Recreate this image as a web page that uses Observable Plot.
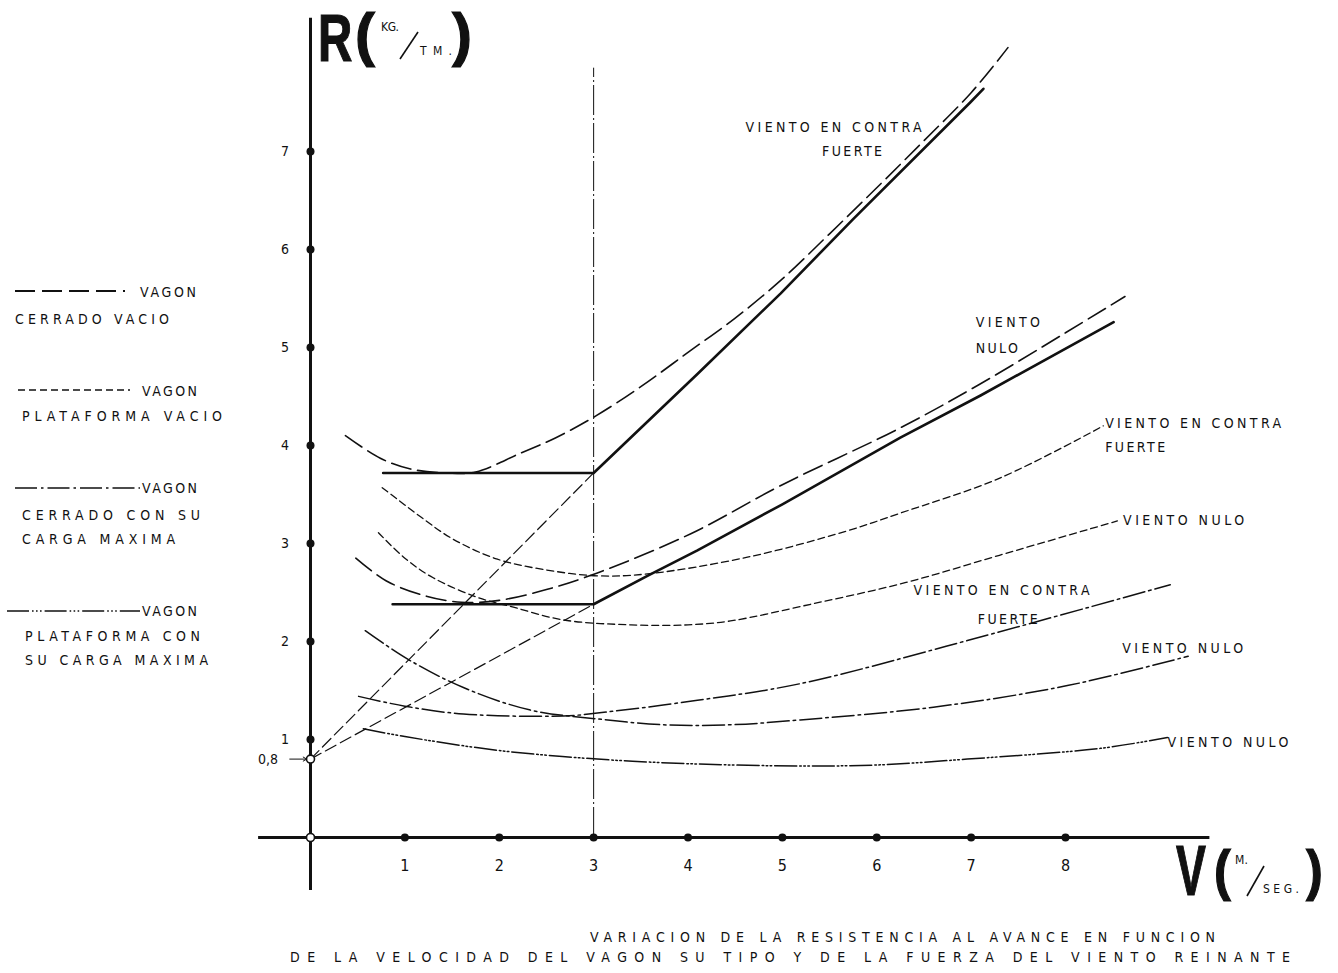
<!DOCTYPE html>
<html>
<head>
<meta charset="utf-8">
<script src="https://cdn.jsdelivr.net/npm/d3@7"></script>
<script src="https://cdn.jsdelivr.net/npm/@observablehq/plot@0.6"></script>
<style>
  html, body { margin: 0; padding: 0; background: #fff; }
  #wrap { position: relative; width: 1338px; height: 973px; overflow: hidden; background: #fff; }
  #wrap > svg { position: absolute; left: 0; top: 0; }
</style>
</head>
<body>
<div id="wrap"></div>
<script>
const INK = "#111";
const NARROW = '"Liberation Sans Narrow", "DejaVu Sans Condensed", "Roboto Condensed", "Liberation Sans", sans-serif';
const BOLD = '"Liberation Sans", Arial, "DejaVu Sans", sans-serif';

// ---------------- data ----------------
const xTicks = [1, 2, 3, 4, 5, 6, 7, 8];          // V (m/seg)
const yTicks = [1, 2, 3, 4, 5, 6, 7];             // R (kg/tm)
const rAtRest = 0.8;                              // R at V = 0
const vLimit = 3;                                 // vertical reference V = 3

// [V, R]
// Vagón cerrado vacío
const cerradoVacioContra = [[0.37,4.10],[0.74,3.87],[1.06,3.76],[1.45,3.72],[1.75,3.73],[2.22,3.92],[2.6,4.08],[3.02,4.30],[3.5,4.60],[4.0,4.95],[4.5,5.30],[5.0,5.70],[5.5,6.16],[6.0,6.63],[6.5,7.11],[7.0,7.60],[7.39,8.06]];
const cerradoVacioContraEnvelope = [[0.77,3.72],[3.0,3.72],[4.10,4.73],[4.98,5.55],[5.75,6.31],[6.99,7.50],[7.13,7.64]];
const cerradoVacioNulo = [[0.48,2.85],[0.8,2.62],[1.2,2.47],[1.6,2.40],[2.0,2.42],[2.5,2.53],[3.04,2.70],[4.03,3.10],[5.0,3.60],[6.25,4.18],[7.10,4.63],[8.0,5.15],[8.63,5.52]];
const cerradoVacioNuloEnvelope = [[0.87,2.38],[3.0,2.38],[3.57,2.67],[4.10,2.93],[5.0,3.40],[6.25,4.08],[7.10,4.51],[8.51,5.26]];
// Vagón plataforma vacío
const plataformaVacioContra = [[0.76,3.57],[1.17,3.27],[1.5,3.05],[1.98,2.84],[2.5,2.73],[3.04,2.67],[3.57,2.69],[4.63,2.86],[5.69,3.13],[6.25,3.31],[7.31,3.67],[8.40,4.20]];
const plataformaVacioNulo = [[0.72,3.11],[1.0,2.85],[1.3,2.65],[1.77,2.45],[2.15,2.35],[2.68,2.22],[3.39,2.17],[4.0,2.17],[4.45,2.21],[5.3,2.38],[6.3,2.60],[7.3,2.88],[8.55,3.23]];
// Vagón cerrado con su carga máxima
const cerradoCargaContra = [[0.51,1.44],[1.0,1.34],[1.62,1.26],[2.68,1.24],[3.04,1.27],[4.10,1.40],[5.19,1.57],[6.96,2.01],[9.11,2.58]];
const cerradoCargaNulo = [[0.58,2.11],[1.03,1.82],[1.62,1.53],[2.33,1.30],[3.04,1.21],[3.74,1.15],[4.45,1.15],[5.19,1.20],[6.60,1.33],[8.02,1.55],[9.30,1.85]];
// Vagón plataforma con su carga máxima
const plataformaCargaNulo = [[0.56,1.11],[1.0,1.03],[1.98,0.89],[3.04,0.80],[4.10,0.75],[5.19,0.73],[6.0,0.74],[6.96,0.80],[8.37,0.91],[9.08,1.02]];
// straight construction lines from R = 0.8 to the envelope corners
const tangentHigh = [[0, 0.8], [3, 3.72]];
const tangentLow = [[0, 0.8], [3, 2.38]];

// curve labels
const curveLabels = [
  {text: "VIENTO EN CONTRA", x: 4.61, y: 7.24},
  {text: "FUERTE", x: 5.42, y: 7.00},
  {text: "VIENTO", x: 7.05, y: 5.26},
  {text: "NULO", x: 7.05, y: 4.99},
  {text: "VIENTO EN CONTRA", x: 8.42, y: 4.22},
  {text: "FUERTE", x: 8.42, y: 3.98},
  {text: "VIENTO NULO", x: 8.61, y: 3.23},
  {text: "VIENTO EN CONTRA", x: 6.39, y: 2.52},
  {text: "FUERTE", x: 7.07, y: 2.22},
  {text: "VIENTO NULO", x: 8.60, y: 1.93},
  {text: "VIENTO NULO", x: 9.08, y: 0.97}
];

const legendEntries = [
  {type: "cerradoVacio", head: "VAGON", lines: ["CERRADO VACIO"]},
  {type: "plataformaVacio", head: "VAGON", lines: ["PLATAFORMA VACIO"]},
  {type: "cerradoCarga", head: "VAGON", lines: ["CERRADO CON SU", "CARGA MAXIMA"]},
  {type: "plataformaCarga", head: "VAGON", lines: ["PLATAFORMA CON", "SU CARGA MAXIMA"]}
];
const captionLines = [
  "VARIACION DE LA RESISTENCIA AL AVANCE EN FUNCION",
  "DE LA VELOCIDAD DEL VAGON SU TIPO Y DE LA FUERZA DEL VIENTO REINANTE"
];

// ---------------- styles ----------------
const lineStyle = {
  cerradoVacio:    {dash: "20,7", w: 1.6},
  envelope:        {dash: null, w: 2.6},
  plataformaVacio: {dash: "7,4", w: 1.3},
  cerradoCarga:    {dash: "22,4,2.5,4", w: 1.5},
  plataformaCarga: {dash: "22,3,1.6,2.4,1.6,2.4,1.6,3", w: 1.5},
  tangent:         {dash: "12,5", w: 1.2}
};

const series = [
  {type: "cerradoVacio", pts: cerradoVacioContra},
  {type: "envelope", pts: cerradoVacioContraEnvelope, curve: "linear"},
  {type: "cerradoVacio", pts: cerradoVacioNulo},
  {type: "envelope", pts: cerradoVacioNuloEnvelope, curve: "linear"},
  {type: "plataformaVacio", pts: plataformaVacioContra},
  {type: "plataformaVacio", pts: plataformaVacioNulo},
  {type: "cerradoCarga", pts: cerradoCargaContra},
  {type: "cerradoCarga", pts: cerradoCargaNulo},
  {type: "plataformaCarga", pts: plataformaCargaNulo},
  {type: "tangent", pts: tangentHigh, curve: "linear"},
  {type: "tangent", pts: tangentLow, curve: "linear"}
];

const W = 1338, H = 973;
const xAxisExtent = [-0.55, 9.53];
const yAxisExtent = [-0.54, 8.36];

const chart = Plot.plot({
  width: W, height: H,
  marginTop: 0, marginRight: 0, marginBottom: 0, marginLeft: 0,
  x: {domain: [0, 8], range: [310, 1065], axis: null},
  y: {domain: [0, 7], range: [837, 151], axis: null},
  style: {background: "transparent", color: INK},
  marks: [
    // vertical reference at V = 3
    Plot.ruleX([vLimit], {y1: 0, y2: 7.85, stroke: INK, strokeWidth: 1, strokeDasharray: "30,3,2,3"}),
    ...series.map(s => Plot.line(s.pts, {
      x: d => d[0], y: d => d[1],
      curve: s.curve || "catmull-rom",
      stroke: INK,
      strokeWidth: lineStyle[s.type].w,
      strokeDasharray: lineStyle[s.type].dash || undefined
    })),
    // axes
    Plot.ruleY([0], {x1: xAxisExtent[0], x2: xAxisExtent[1], stroke: INK, strokeWidth: 3}),
    Plot.ruleX([0], {y1: yAxisExtent[0], y2: yAxisExtent[1], stroke: INK, strokeWidth: 3}),
    Plot.dot(xTicks, {x: d => d, y: 0, r: 4, fill: INK}),
    Plot.dot(yTicks, {x: 0, y: d => d, r: 4, fill: INK}),
    Plot.dot([[0, 0], [0, rAtRest]], {x: d => d[0], y: d => d[1], r: 4, fill: "white", stroke: INK, strokeWidth: 1.6}),
    Plot.text(xTicks, {x: d => d, y: -0.29, text: d => String(d), fontSize: 16, fontFamily: NARROW, fill: INK}),
    Plot.text(yTicks, {x: -0.27, y: d => d, text: d => String(d), fontSize: 14, fontFamily: NARROW, fill: INK}),
    Plot.text([rAtRest], {x: -0.45, y: d => d, text: () => "0,8", fontSize: 14, fontFamily: NARROW, fill: INK}),
    Plot.arrow([rAtRest], {x1: -0.22, x2: -0.04, y1: d => d, y2: d => d, stroke: INK, strokeWidth: 1, headLength: 6}),
    Plot.text(curveLabels, {x: "x", y: "y", text: "text", textAnchor: "start", fontSize: 14, fontFamily: NARROW, fill: INK})
  ]
});

// spread the wide-spaced lettering of the original
const labelWidths = {"VIENTO EN CONTRA": 176, "FUERTE": 60, "VIENTO": 64, "NULO": 42, "VIENTO NULO": 121};
d3.select(chart).selectAll("text").each(function () {
  const w = labelWidths[this.textContent];
  if (w) { this.setAttribute("textLength", w); this.setAttribute("lengthAdjust", "spacing"); }
});

const wrap = document.getElementById("wrap");
wrap.appendChild(chart);

// ---------------- overlay: legend, caption, axis titles ----------------
const ov = d3.create("svg").attr("width", W).attr("height", H).attr("viewBox", `0 0 ${W} ${H}`);

function spaced(str, x1, x2, yMid, size) {
  ov.append("text")
    .attr("x", x1).attr("y", yMid)
    .attr("dominant-baseline", "central")
    .attr("font-family", NARROW).attr("font-size", size).attr("fill", INK)
    .attr("textLength", x2 - x1).attr("lengthAdjust", "spacing")
    .text(str);
}

const legendLayout = [
  {line: [15, 125, 291], head: [140, 196, 292], rows: [[15, 169, 319]]},
  {line: [18, 130, 390], head: [142, 197, 391], rows: [[22, 222, 416]]},
  {line: [15, 140, 488], head: [142, 197, 488], rows: [[22, 200, 515], [22, 175, 539]]},
  {line: [7, 140, 611], head: [142, 197, 611], rows: [[25, 200, 636], [25, 208, 660]]}
];
legendEntries.forEach((e, i) => {
  const L = legendLayout[i];
  ov.append("line").attr("x1", L.line[0]).attr("x2", L.line[1]).attr("y1", L.line[2]).attr("y2", L.line[2])
    .attr("stroke", INK).attr("stroke-width", lineStyle[e.type].w + 0.2)
    .attr("stroke-dasharray", lineStyle[e.type].dash);
  spaced(e.head, L.head[0], L.head[1], L.head[2], 14);
  e.lines.forEach((t, j) => spaced(t, L.rows[j][0], L.rows[j][1], L.rows[j][2], 14));
});

spaced(captionLines[0], 590, 1215, 937, 14);
spaced(captionLines[1], 290, 1290, 957, 14);

// axis title R (KG./TM.)
function bigText(str, x, baseline, size, sx) {
  ov.append("text").attr("transform", `translate(${x},${baseline}) scale(${sx},1)`)
    .attr("font-family", BOLD).attr("font-weight", "bold").attr("font-size", size)
    .attr("fill", INK).attr("stroke", INK).attr("stroke-width", 1.2).text(str);
}
bigText("R", 318, 61, 66, 0.72);
bigText("(", 355, 55, 60, 1.0);
bigText(")", 452, 55, 60, 1.0);
spaced("KG.", 381, 399, 27, 12);
spaced("TM.", 420, 452, 51, 12);
ov.append("line").attr("x1", 400).attr("y1", 59).attr("x2", 418).attr("y2", 32).attr("stroke", INK).attr("stroke-width", 1.6);

// axis title V (M./SEG.)
bigText("V", 1176, 895, 70, 0.64);
bigText("(", 1214, 889, 56, 0.9);
bigText(")", 1306, 889, 56, 0.9);
spaced("M.", 1235, 1248, 860, 12);
spaced("SEG.", 1263, 1299, 889, 12);
ov.append("line").attr("x1", 1247).attr("y1", 896).attr("x2", 1264).attr("y2", 866).attr("stroke", INK).attr("stroke-width", 1.6);

wrap.appendChild(ov.node());
</script>
</body>
</html>
